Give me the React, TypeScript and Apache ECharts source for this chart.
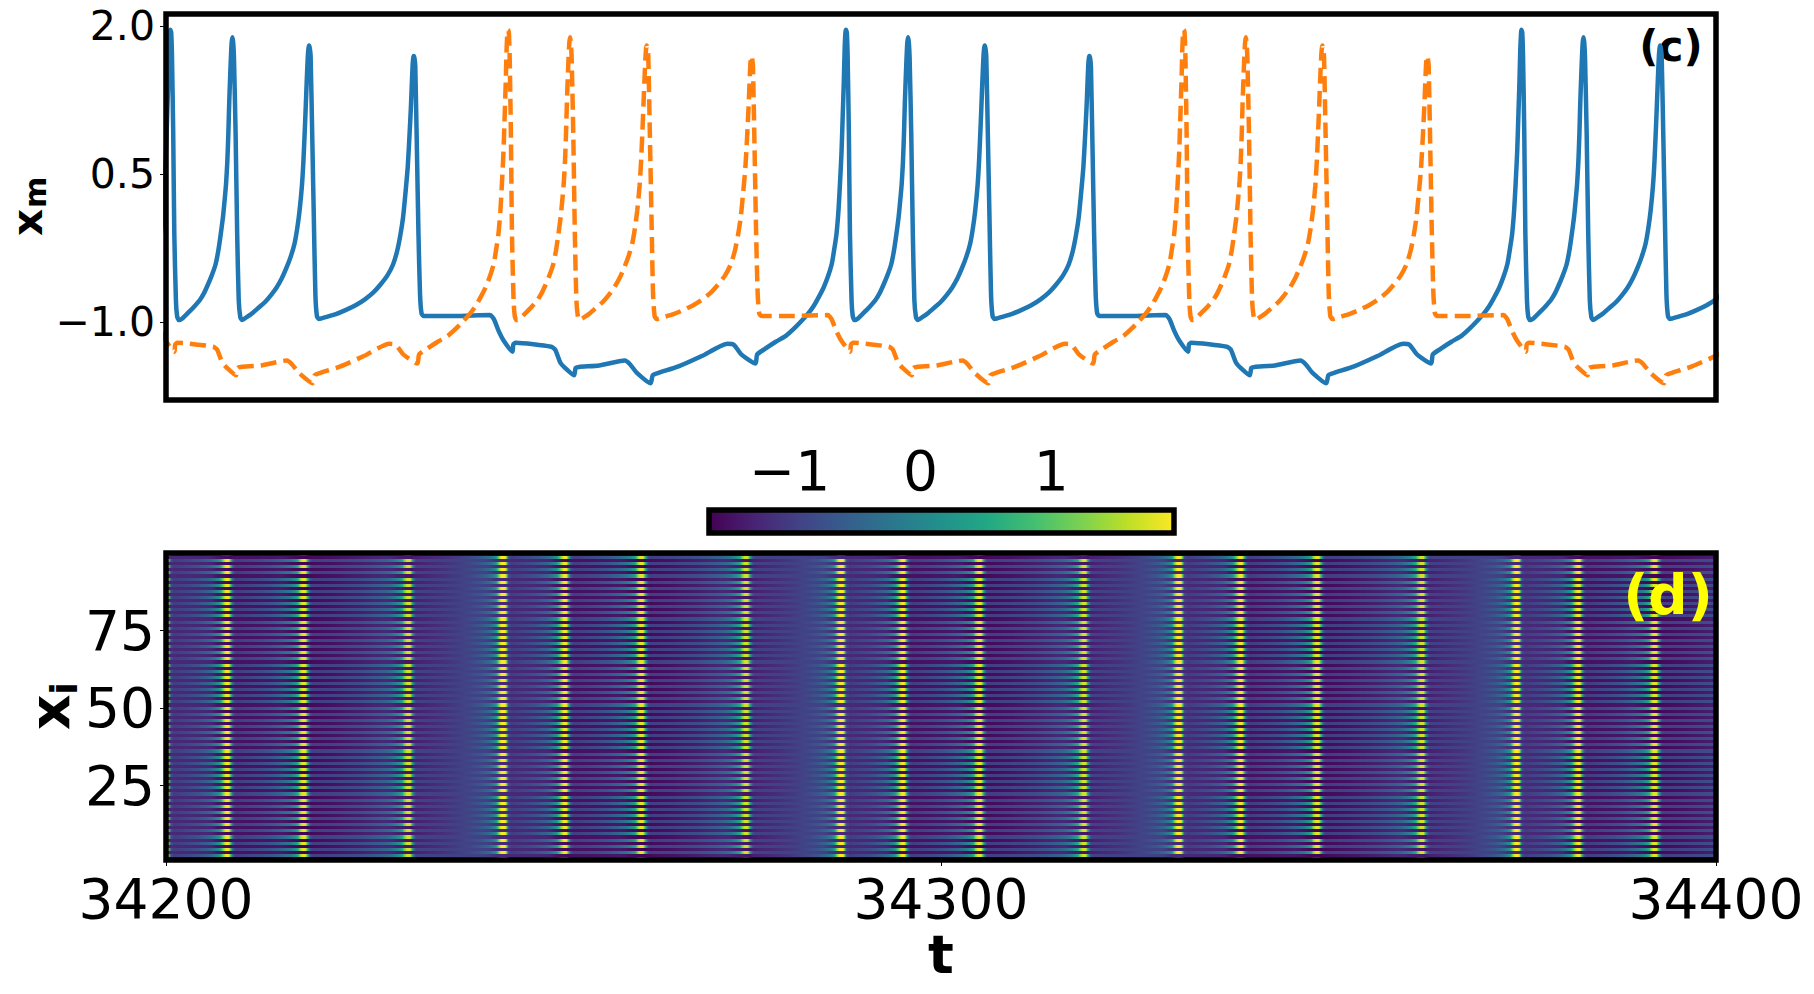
import { useEffect, useRef } from "react";
import * as echarts from "echarts";

// one full burst cycle: time since the first spike, x_m
const cycleTime = [
  0, 0.1, 0.2, 0.36, 0.5, 0.71, 0.86, 1.07, 1.22, 1.85, 2.49, 3.1, 3.76, 4.3, 4.77, 5.3, 5.79, 6.15, 6.45, 6.75, 6.95,
  7.15, 7.31, 7.45, 7.56, 7.67, 7.77, 7.87, 7.97, 8.07, 8.17, 8.38, 8.58, 8.78, 8.98, 9.19, 9.9, 10.6, 11.4, 12.13,
  12.9, 13.65, 14.3, 14.92, 15.45, 15.94, 16.3, 16.6, 16.9, 17.1, 17.3, 17.46, 17.56, 17.66, 17.74, 17.82, 17.92,
  18.02, 18.22, 18.43, 18.63, 18.83, 19.09, 20.2, 21.27, 22.5, 23.8, 25, 26.09, 27, 27.87, 28.6, 29.14, 29.55, 29.9,
  30.2, 30.5, 30.72, 30.91, 31.02, 31.12, 31.2, 31.27, 31.37, 31.47, 31.68, 31.88, 32.08, 32.28, 32.59, 36.5, 41.07,
  41.57, 42.18, 42.84, 43.96, 44.06, 44.37, 48.94, 49.45, 50.1, 50.71, 51.88, 52.08, 52.5, 55.1, 58.4, 59.09, 59.95,
  61.72, 61.98, 62.74, 65.3, 68.3, 71.6, 72.4, 73.4, 75.2, 75.4, 76.45, 77.8, 79.1, 80.1, 81.1, 81.9, 82.65, 83.3,
  83.95, 84.5, 85, 85.3, 85.6, 85.85, 86.05, 86.25, 86.4, 86.55, 86.65, 86.75,
];
const cycleValue = [
  1.96, 1.93, 1.7, 0.91, -0.11, -0.79, -0.94, -0.98, -0.98, -0.94, -0.89, -0.84, -0.78, -0.71, -0.63, -0.53, -0.42,
  -0.28, -0.12, 0.06, 0.22, 0.4, 0.62, 0.92, 1.23, 1.47, 1.67, 1.83, 1.885, 1.83, 1.67, 0.9, -0.11, -0.78, -0.95,
  -0.98, -0.945, -0.905, -0.85, -0.8, -0.73, -0.65, -0.56, -0.45, -0.34, -0.21, -0.05, 0.13, 0.38, 0.64, 1.0, 1.32,
  1.52, 1.69, 1.77, 1.8, 1.77, 1.69, 0.91, 0.06, -0.72, -0.94, -0.97, -0.945, -0.92, -0.88, -0.83, -0.77, -0.7, -0.62,
  -0.53, -0.42, -0.28, -0.12, 0.06, 0.3, 0.57, 0.88, 1.18, 1.4, 1.59, 1.67, 1.695, 1.67, 1.59, 0.74, -0.11, -0.72,
  -0.915, -0.94, -0.94, -0.93, -0.97, -1.09, -1.19, -1.3, -1.23, -1.21, -1.25, -1.28, -1.41, -1.465, -1.54, -1.465,
  -1.455, -1.44, -1.39, -1.43, -1.515, -1.62, -1.54, -1.515, -1.45, -1.345, -1.22, -1.23, -1.33, -1.42, -1.33, -1.27,
  -1.2, -1.14, -1.07, -0.99, -0.92, -0.84, -0.75, -0.65, -0.54, -0.41, -0.27, -0.11, 0.12, 0.4, 0.72, 1.08, 1.45, 1.76, 1.93,
];

// time (after 34200) where each series starts its burst
const blueStarts = [-86.6, 0.57, 87.75, 174.9];
const orangeStarts = [-43.05, 44.14, 131.33];

const timeTicks = [34200, 34300, 34400];
const xmTicks = [-1, 0.5, 2];
const rowTicks = [25, 50, 75];
const colorTicks = [-1, 0, 1];

const viridis = [
  "#440154", "#482475", "#414487", "#355f8d", "#2a788e", "#21918c", "#22a884", "#44bf70", "#7ad151", "#bddf26", "#fde725",
];

const T0 = 34200;
const T1 = 34400;
const V_MIN = -1.616;
const V_MAX = 1.937;
// cycleTime was read on a slightly narrower time scale
const CYCLE_STRETCH = 1.004;
// the image sits a little left of the traces in the original
const HEAT_SHIFT = -0.65;
// the image's coarser sampling makes each spike look wider than in the trace
const HEAT_SPREAD = 0.2;
const FONT = "DejaVu Sans";

function traceOf(starts: number[]) {
  const out: number[][] = [];
  starts.forEach((s) => cycleTime.forEach((u, i) => out.push([T0 + s + u * CYCLE_STRETCH, cycleValue[i]])));
  return out;
}

function colorOf(v: number) {
  const f = Math.min(1, Math.max(0, (v - V_MIN) / (V_MAX - V_MIN)));
  return echarts.color.lerp(f, viridis) as string;
}

function stopsOf(trace: number[][]) {
  const stops: { offset: number; color: string }[] = [];
  trace.forEach(([t], k) => {
    const offset = (t + HEAT_SHIFT - T0) / (T1 - T0);
    if (offset < 0 || offset > 1) return;
    let top = trace[k][1];
    for (let j = Math.max(0, k - 12); j < Math.min(trace.length, k + 13); j++) {
      if (Math.abs(trace[j][0] - t) <= HEAT_SPREAD) top = Math.max(top, trace[j][1]);
    }
    stops.push({ offset, color: colorOf(top) });
  });
  return stops;
}

const bluePoints = traceOf(blueStarts);
const orangePoints = traceOf(orangeStarts);
const rows = Array.from({ length: 100 }, (_, i) => i + 1);

export default function App() {
  const chartRef = useRef<HTMLDivElement>(null);

  useEffect(() => {
    if (!chartRef.current) return;
    const chart = echarts.init(chartRef.current, null, { renderer: "svg" });

    const blueFill = new echarts.graphic.LinearGradient(0, 0, 1, 0, stopsOf(bluePoints));
    const orangeFill = new echarts.graphic.LinearGradient(0, 0, 1, 0, stopsOf(orangePoints));
    const barFill = new echarts.graphic.LinearGradient(
      0,
      0,
      1,
      0,
      viridis.map((color, i) => ({ offset: i / (viridis.length - 1), color })),
    );

    const frame = {
      show: true,
      borderColor: "#000",
      borderWidth: 5.5,
      backgroundColor: "transparent",
      z: 5,
      outerBoundsMode: "none",
    };
    const tick = { show: true, length: 6, lineStyle: { color: "#000", width: 1 } };

    const option: any = {
      animation: false,
      backgroundColor: "#fff",
      textStyle: { fontFamily: FONT },
      grid: [
        { left: 166, top: 14, width: 1550, height: 386, ...frame },
        { left: 166, top: 553, width: 1550, height: 307, ...frame },
        { left: 709, top: 510, width: 465, height: 23, ...frame },
      ],
      xAxis: [
        { gridIndex: 0, type: "value", min: T0, max: T1, show: false },
        {
          gridIndex: 1,
          type: "value",
          min: T0,
          max: T1,
          axisLine: { show: false },
          axisTick: { ...tick, customValues: timeTicks },
          splitLine: { show: false },
          axisLabel: {
            color: "#000",
            fontSize: 55,
            lineHeight: 50,
            fontFamily: FONT,
            margin: 14,
            customValues: timeTicks,
            formatter: (v: number) => String(v),
          },
          name: "t",
          nameLocation: "middle",
          nameGap: 71,
          nameTextStyle: { color: "#000", fontSize: 54, lineHeight: 46, fontWeight: "bold", fontFamily: FONT },
        },
        {
          gridIndex: 2,
          type: "value",
          position: "top",
          min: V_MIN,
          max: V_MAX,
          axisLine: { show: false },
          axisTick: { ...tick, customValues: colorTicks },
          splitLine: { show: false },
          axisLabel: {
            color: "#000",
            fontSize: 55,
            fontFamily: FONT,
            margin: 12,
            customValues: colorTicks,
            formatter: (v: number) => String(v).replace("-", "\u2212"),
          },
        },
      ],
      yAxis: [
        {
          gridIndex: 0,
          type: "value",
          min: -1.79,
          max: 2.12,
          axisLine: { show: false },
          axisTick: { ...tick, customValues: xmTicks },
          splitLine: { show: false },
          axisLabel: {
            color: "#000",
            fontSize: 41,
            fontFamily: FONT,
            margin: 11,
            customValues: xmTicks,
            formatter: (v: number) => v.toFixed(1).replace("-", "\u2212"),
          },
        },
        {
          gridIndex: 1,
          type: "value",
          min: 1,
          max: 100,
          axisLine: { show: false },
          axisTick: { ...tick, customValues: rowTicks },
          splitLine: { show: false },
          axisLabel: { color: "#000", fontSize: 55, fontFamily: FONT, margin: 11, customValues: rowTicks },
        },
        { gridIndex: 2, type: "value", min: 0, max: 1, show: false },
      ],
      series: [
        {
          type: "line",
          xAxisIndex: 0,
          yAxisIndex: 0,
          data: bluePoints,
          showSymbol: false,
          smooth: 0.2,
          lineStyle: { color: "#1f77b4", width: 4.5, join: "round" },
          z: 3,
        },
        {
          type: "line",
          xAxisIndex: 0,
          yAxisIndex: 0,
          data: orangePoints,
          showSymbol: false,
          smooth: 0.2,
          lineStyle: { color: "#ff7f0e", width: 4.5, type: [16, 7] },
          z: 4,
        },
        {
          // rows 1..100, even rows follow the blue trace and odd rows the orange one
          type: "custom",
          xAxisIndex: 1,
          yAxisIndex: 1,
          data: rows.map((r) => [r]),
          renderItem: (_params: any, api: any) => {
            const r = api.value(0);
            const low = 1 + (r - 1) * 0.99;
            const a = api.coord([T0, low + 0.99]);
            const b = api.coord([T1, low]);
            // whole pixels, so that the stripes stay crisp
            const y0 = Math.round(a[1]);
            const y1 = Math.round(b[1]);
            return {
              type: "rect",
              shape: { x: a[0], y: y0, width: b[0] - a[0], height: y1 - y0 },
              style: { fill: r % 2 === 0 ? blueFill : orangeFill },
            };
          },
          z: 2,
        },
        {
          type: "custom",
          xAxisIndex: 2,
          yAxisIndex: 2,
          data: [[V_MIN, V_MAX]],
          renderItem: (_params: any, api: any) => {
            const a = api.coord([api.value(0), 1]);
            const b = api.coord([api.value(1), 0]);
            return {
              type: "rect",
              shape: { x: a[0], y: a[1], width: b[0] - a[0], height: b[1] - a[1] },
              style: { fill: barFill },
            };
          },
          z: 2,
        },
      ],
      graphic: [
        {
          type: "text",
          x: 1671,
          y: 46,
          z: 1,
          style: {
            text: "(c)",
            fill: "#000",
            font: `bold 42px "${FONT}"`,
            textAlign: "center",
            textVerticalAlign: "middle",
          },
        },
        {
          type: "text",
          x: 1668,
          y: 595,
          z: 10,
          style: {
            text: "(d)",
            fill: "#ffff00",
            font: `bold 55px "${FONT}"`,
            textAlign: "center",
            textVerticalAlign: "middle",
          },
        },
        {
          type: "text",
          x: 6,
          y: 236,
          rotation: Math.PI / 2,
          style: { text: "x", fill: "#000", font: `bold 42px "${FONT}"`, textAlign: "left" },
        },
        {
          type: "text",
          x: 20,
          y: 208,
          rotation: Math.PI / 2,
          style: { text: "m", fill: "#000", font: `bold 30px "${FONT}"`, textAlign: "left" },
        },
        {
          type: "text",
          x: 22,
          y: 730,
          rotation: Math.PI / 2,
          style: { text: "x", fill: "#000", font: `bold 55px "${FONT}"`, textAlign: "left" },
        },
        {
          type: "text",
          x: 45,
          y: 695,
          rotation: Math.PI / 2,
          style: { text: "i", fill: "#000", font: `bold 38px "${FONT}"`, textAlign: "left" },
        },
      ],
    };

    chart.setOption(option);
    return () => chart.dispose();
  }, []);

  return <div ref={chartRef} style={{ position: "absolute", left: 0, top: 0, width: 1814, height: 994 }} />;
}
